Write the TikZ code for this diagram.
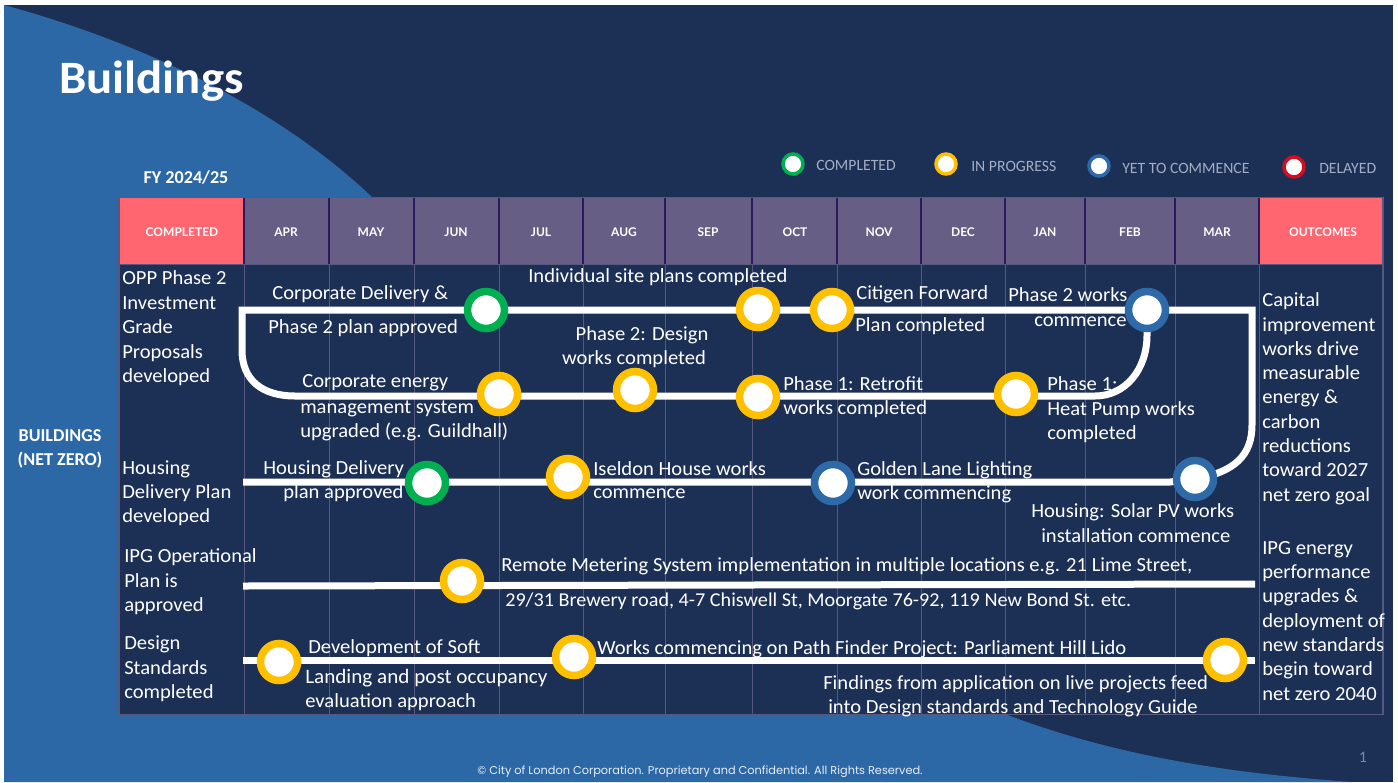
\documentclass[tikz,border=0pt]{standalone}
\usepackage{fontspec}
\setmainfont{Carlito}
\newfontfamily\wide[FakeStretch=1.03]{Carlito}
\newfontfamily\widet[FakeStretch=1.05]{Carlito}
\newfontfamily\headfont{Lato}
\newfontfamily\copyfont{Poppins}
\usetikzlibrary{calc}
\pgfdeclarelayer{back}
\pgfdeclarelayer{mid}
\pgfsetlayers{back,mid,main}
\definecolor{navy}{HTML}{1C2F55}
\definecolor{sky}{HTML}{2C68A5}
\definecolor{coral}{HTML}{FF6670}
\definecolor{plum}{HTML}{675E85}
\definecolor{gridc}{HTML}{57577F}
\definecolor{sepc}{HTML}{2A1A5E}
\definecolor{ylw}{HTML}{FFC000}
\definecolor{grn}{HTML}{00B050}
\definecolor{blu}{HTML}{2E6AA8}
\definecolor{rd}{HTML}{D40E20}
\definecolor{legc}{HTML}{A3AEC2}
\tikzset{
 stopnode/.style={circle,fill=white,draw=#1,line width=7.5*0.75pt,minimum size=37*0.75pt,inner sep=0pt},
 legnode/.style={circle,fill=white,draw=#1,line width=3.5*0.75pt,minimum size=20*0.75pt,inner sep=0pt},
 track/.style={draw=white,line width=7*0.75pt,line join=miter},
 lbl/.style={text=white,font=\wide\fontsize{15}{17}\selectfont,anchor=base west,inner sep=0pt},
 lblc/.style={lbl,anchor=base},
 hd/.style={text=white,font=\headfont\bfseries\fontsize{9}{11}\selectfont,inner sep=0pt},
 leg/.style={text=legc,font=\fontsize{11.8}{15}\selectfont,anchor=base west,inner sep=0pt},
}
\begin{document}
\begin{tikzpicture}[x=0.75pt,y=-0.75pt]
\useasboundingbox (0,0) rectangle (1398,782);
\begin{pgfonlayer}{back}
\fill[white] (0,0) rectangle (1398,782);
\fill[navy] (4,5) rectangle (1393,782);
\fill[sky] (4,5) .. controls (150,45) and (280,110) .. (372,197)
  -- (1005,714) .. controls (1120,758) and (1240,774) .. (1352,782) -- (4,782) -- cycle;
\fill[sky] (372,197) -- (372,714) -- (1005,714) -- cycle;
% table
\fill[navy] (119,198) rectangle (1383,714);
\fill[coral] (120,198) rectangle (244,264);
\fill[coral] (1259,198) rectangle (1383,264);
\fill[plum] (244,198) rectangle (1259,264);
\foreach \x in {244,329,414,499,583,665,752,837,921,1005,1085,1175,1259}{
  \draw[sepc,line width=1.1pt] (\x,198) -- (\x,264);
  \draw[gridc,line width=0.6pt] (\x,264) -- (\x,714);
}
\draw[gridc,line width=0.8pt] (119,197.5) rectangle (1383,714.5);
\draw[gridc,line width=0.6pt] (119,264) -- (1383,264);
\end{pgfonlayer}
% header
\foreach \n/\x/\t in {h0/182/COMPLETED,h1/286/APR,h2/371/MAY,h3/456/JUN,h4/541/JUL,h5/624/AUG,h6/708/SEP,h7/795/OCT,h8/879/NOV,h9/963/DEC,h10/1045/JAN,h11/1130/FEB,h12/1217/MAR,h13/1323/OUTCOMES}{
  \node[hd] (\n) at (\x,232) {\t};
}
% titles
\node[text=white,inner sep=0pt,anchor=base west,font=\widet\bfseries\fontsize{34.8}{36}\selectfont] (title) at (59,93) {Buildings};
\node[text=white,inner sep=0pt,font=\bfseries\fontsize{13.6}{14}\selectfont] (fy) at (186,178) {FY 2024/25};
\node[text=white,inner sep=0pt,align=center,font=\bfseries\fontsize{13.6}{17.5}\selectfont] (side) at (60,449) {BUILDINGS\\(NET ZERO)};
\node[text=white!88!sky,inner sep=0pt,font=\copyfont\fontsize{8.5}{10}\selectfont] (copy) at (700,772) {© City of London Corporation. Proprietary and Confidential. All Rights Reserved.};
\node[text=legc!70!navy,inner sep=0pt,font=\fontsize{12}{14}\selectfont] (pg) at (1363,757) {1};
% legend
\node[legnode=grn] (l1) at (793,164) {};
\node[legnode=ylw] (l2) at (946,164) {};
\node[legnode=blu] (l3) at (1099,166) {};
\node[legnode=rd] (l4) at (1294,167) {};
\node[leg] (lt1) at (816,170) {COMPLETED};
\node[leg] (lt2) at (971,171) {IN PROGRESS};
\node[leg] (lt3) at (1122,173) {YET TO COMMENCE};
\node[leg] (lt4) at (1319,173) {DELAYED};
% stops
\coordinate (s2) at (243,482);
\coordinate (s3) at (243,586);
\coordinate (e3) at (1255,584);
\coordinate (s4) at (243,660);
\coordinate (e4) at (1255,660);
\node[stopnode=grn] (a1) at (486,310) {};
\node[stopnode=ylw] (a2) at (758,309) {};
\node[stopnode=ylw] (a3) at (832,310) {};
\node[stopnode=blu] (a4) at (1147,310) {};
\node[stopnode=ylw] (b1) at (499,394) {};
\node[stopnode=ylw] (b2) at (635,390) {};
\node[stopnode=ylw] (b3) at (758,397) {};
\node[stopnode=ylw] (b4) at (1016,394) {};
\node[stopnode=grn] (c1) at (427,483) {};
\node[stopnode=ylw] (c2) at (568,477) {};
\node[stopnode=blu] (c3) at (833,483) {};
\node[stopnode=blu] (c4) at (1195,479) {};
\node[stopnode=ylw] (d1) at (462,581) {};
\node[stopnode=ylw] (f1) at (279,662) {};
\node[stopnode=ylw] (f2) at (574,657) {};
\node[stopnode=ylw] (f3) at (1225,660) {};
% tracks, on a layer behind the stops
\begin{pgfonlayer}{mid}
\path[track] (a4.center) -- (1252,310) -- (1252,425) .. controls (1252,455) and (1235,472) .. (c4.center);
\path[track] (a4.center) -- (1147,335) .. controls (1147,370) and (1125,396) .. (1095,396) -- (b4.center |- 0,396);
\path[track] (a4.center) -- (242,310) -- (242,350) .. controls (242,380) and (262,396) .. (295,396) -- (b4.center |- 0,396);
\path[track] (s2) -- (1170,482) -- (c4.center);
\path[track] (s3) -- (e3);
\path[track] (s4) -- (e4);
\end{pgfonlayer}
% left column
\foreach \n/\y/\t in {p1/284/OPP Phase 2,p2/309/Investment,p3/333/Grade,p4/358/Proposals,p5/382/developed,p6/474/Housing,p7/498/Delivery Plan,p8/522/developed}{
  \node[lbl] (\n) at (122,\y) {\t};
}
\foreach \n/\y/\t in {q1/562/IPG Operational,q2/587/Plan is,q3/611/approved,q4/649/Design,q5/674/Standards,q6/698/completed}{
  \node[lbl] (\n) at (124,\y) {\t};
}
% right column
\foreach \n/\y/\t in {o1/306/Capital,o2/331/improvement,o3/355/works drive,o4/379/measurable,o5/403/energy \&,o6/428/carbon,o7/452/reductions,o8/476/toward 2027,o9/501/net zero goal,o10/554/IPG energy,o11/578/performance,o12/602/upgrades \&,o13/627/deployment of,o14/651/new standards,o15/675/begin toward,o16/700/net zero 2040}{
  \node[lbl] (\n) at (1262,\y) {\t};
}
% timeline labels
\node[lbl] (t1) at (272,299) {Corporate Delivery \&};
\node[lbl] (t2) at (268,333) {Phase 2 plan approved};
\node[lbl] (t3) at (528,282) {Individual site plans completed};
\node[lblc] (t4) at (642,340) {Phase 2: Design};
\node[lblc] (t5) at (634,364) {works completed};
\node[lbl] (t6) at (856,299) {Citigen Forward};
\node[lbl] (t7) at (855,331) {Plan completed};
\node[lbl] (t8) at (1008,301) {Phase 2 works};
\node[lbl] (t9) at (1034,326) {commence};
\node[lbl] (t10) at (302,387) {Corporate energy};
\node[lbl] (t11) at (300,413) {management system};
\node[lbl] (t12) at (300,437) {upgraded (e.g. Guildhall)};
\node[lbl] (t13) at (783,390) {Phase 1: Retrofit};
\node[lbl] (t14) at (783,414) {works completed};
\node[lbl] (t15) at (1047,390) {Phase 1:};
\node[lbl] (t16) at (1047,415) {Heat Pump works};
\node[lbl] (t17) at (1047,439) {completed};
\node[lbl] (t18) at (263,474) {Housing Delivery};
\node[lbl] (t19) at (283,498) {plan approved};
\node[lbl] (t20) at (593,475) {Iseldon House works};
\node[lbl] (t21) at (593,498) {commence};
\node[lbl] (t22) at (857,475) {Golden Lane Lighting};
\node[lbl] (t23) at (857,499) {work commencing};
\node[lbl] (t24) at (1031,517) {Housing: Solar PV works};
\node[lbl] (t25) at (1041,542) {installation commence};
\node[lbl] (t26) at (501,571) {Remote Metering System implementation in multiple locations e.g. 21 Lime Street,};
\node[lbl,font=\wide\fontsize{14.7}{17}\selectfont] (t27) at (505,606) {29/31 Brewery road, 4-7 Chiswell St, Moorgate 76-92, 119 New Bond St. etc.};
\node[lbl] (t28) at (308,653) {Development of Soft};
\node[lbl,font=\wide\fontsize{15.4}{17}\selectfont] (t29) at (305,683) {Landing and post occupancy};
\node[lbl] (t30) at (305,707) {evaluation approach};
\node[lbl] (t31) at (597,654) {Works commencing on Path Finder Project: Parliament Hill Lido};
\node[lbl] (t32) at (823,689) {Findings from application on live projects feed};
\node[lbl] (t33) at (828,713) {into Design standards and Technology Guide};
\end{tikzpicture}
\end{document}
